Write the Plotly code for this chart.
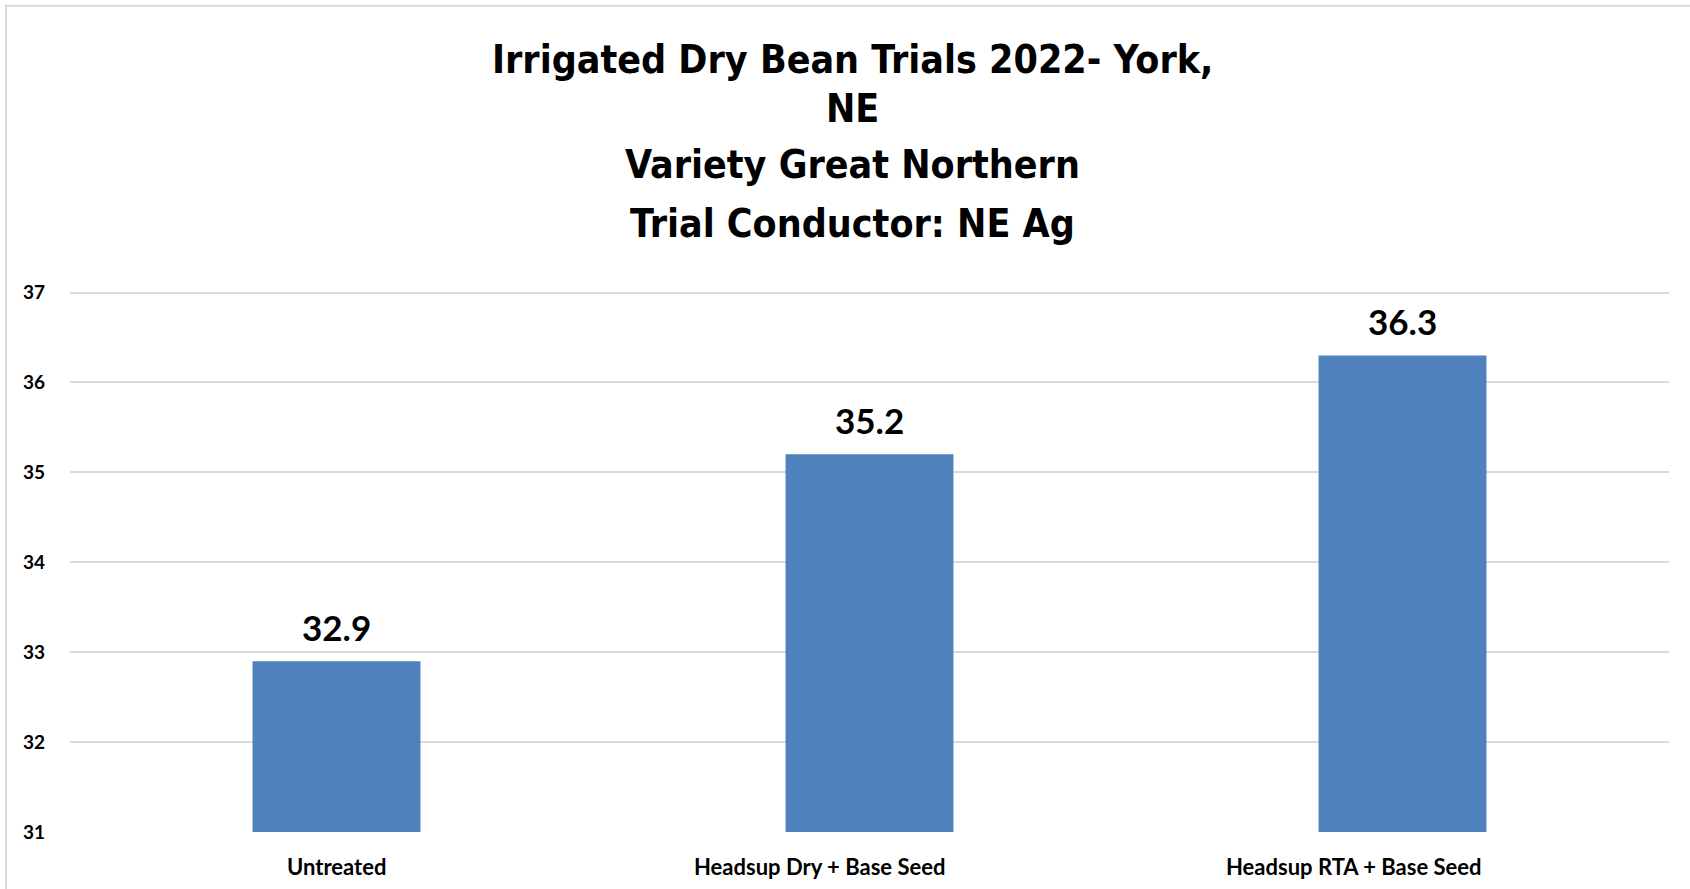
import plotly.graph_objects as go

categories = ["Untreated", "Headsup Dry + Base Seed", "Headsup RTA + Base Seed"]
values = [32.9, 35.2, 36.3]
value_labels = ["32.9", "35.2", "36.3"]
y_ticks = [31, 32, 33, 34, 35, 36, 37]
title_lines = [
    "Irrigated Dry Bean Trials 2022- York,",
    "NE",
    "Variety Great Northern",
    "Trial Conductor: NE Ag",
]

TITLE_FONT = "Liberation Sans Narrow, DejaVu Sans Condensed, Lato, sans-serif"
BODY_FONT = "Lato, Noto Sans, sans-serif"

# layout constants (pixels)
PX_PER_UNIT = 90.0
Y_MIN, Y_MAX = 31, 37.05
PL, PR, PB = 70, 1669, 832
PT = PB - PX_PER_UNIT * (Y_MAX - Y_MIN)
PW, PH = PR - PL, PB - PT
label_xshift = [0, -50, -49]

fig = go.Figure()
fig.add_trace(go.Bar(
    x=categories,
    y=values,
    marker=dict(color="#4F81BD", line=dict(width=0)),
    width=0.315,
    hoverinfo="x+y",
))

# value labels above bars
for cat, val, lab in zip(categories, values, value_labels):
    fig.add_annotation(
        x=cat, y=val, xref="x", yref="y",
        text="<b>%s</b>" % lab,
        showarrow=False, yanchor="bottom", yshift=11,
        font=dict(family=BODY_FONT, size=35, color="#000000"),
    )

# category labels
for cat, dx in zip(categories, label_xshift):
    fig.add_annotation(
        x=cat, y=0, xref="x", yref="paper",
        text="<b>%s</b>" % cat,
        showarrow=False, yanchor="middle", xanchor="center",
        xshift=dx, yshift=-(866 - PB),
        font=dict(family=BODY_FONT, size=22, color="#000000"),
    )

# Title lines
title_y = [59, 108, 164, 223]
for line, yy in zip(title_lines, title_y):
    fig.add_annotation(
        text="<b>%s</b>" % line,
        xref="paper", yref="paper",
        x=(852 - PL) / PW,
        y=(PB - yy) / PH,
        xanchor="center", yanchor="middle",
        showarrow=False,
        font=dict(family=TITLE_FONT, size=39, color="#000000"),
    )

# chart border
fig.add_shape(
    type="rect", xref="paper", yref="paper",
    x0=(6 - PL) / PW, x1=(1720 - PL) / PW,
    y0=(PB - 920) / PH, y1=(PB - 5) / PH,
    line=dict(color="#D9D9D9", width=2),
    fillcolor="rgba(0,0,0,0)",
    layer="below",
)

fig.update_layout(
    width=1690, height=889,
    margin=dict(l=PL, r=1690 - PR, t=PT, b=889 - PB),
    paper_bgcolor="white",
    plot_bgcolor="white",
    showlegend=False,
    font=dict(family=BODY_FONT, color="#000000"),
)
fig.update_xaxes(
    showgrid=False, zeroline=False, showline=False,
    ticks="", showticklabels=False,
)
fig.update_yaxes(
    range=[Y_MIN, Y_MAX],
    tickvals=y_ticks,
    ticktext=[str(v) for v in y_ticks],
    showgrid=True, gridcolor="#D9D9D9", gridwidth=2,
    zeroline=False, showline=False, ticks="",
    ticklabelstandoff=24,
    tickfont=dict(family=BODY_FONT, size=19, color="#000000", weight="bold"),
)

fig.write_html(
    "out.html",
    config={"displayModeBar": False},
    post_script="document.body.style.margin='0';",
)
